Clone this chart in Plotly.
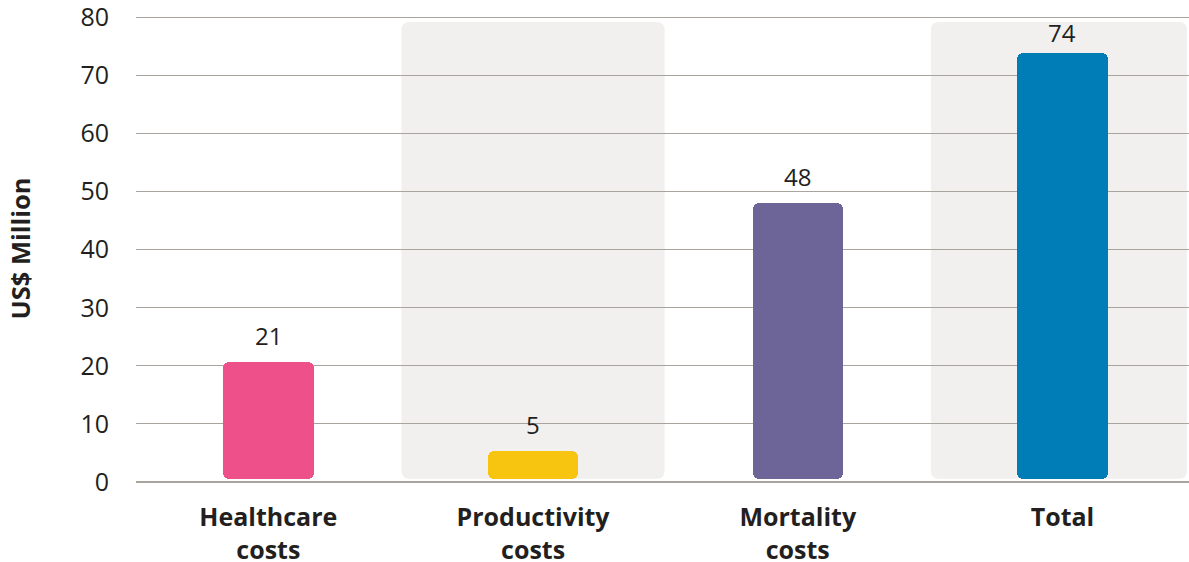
import plotly.graph_objects as go

categories = ["Healthcare<br>costs", "Productivity<br>costs", "Mortality<br>costs", "Total"]
values = [20.6, 5.3, 48.1, 73.9]
value_labels = ["21", "5", "48", "74"]
bar_colors = ["#ee5189", "#f7c40f", "#6d6598", "#007cb7"]
shaded = [False, True, False, True]
y_ticks = [0, 10, 20, 30, 40, 50, 60, 70, 80]

# styles
label_shift = [8, 8, 8, 2]
FONT = "Open Sans"
TEXT = "#231f20"
GRID = "#aaa49f"
PANEL = "#f1f0ee"
BASE = 0.55
PANEL_TOP = 79.2

x = list(range(len(categories)))

fig = go.Figure()
fig.add_trace(go.Bar(
    x=x, y=[v - BASE for v in values], base=BASE,
    marker=dict(color=bar_colors, cornerradius=6, line=dict(width=0)),
    width=0.342, hoverinfo="skip", showlegend=False,
))

# rounded background panels
rx, ry = 8 / 264.7, 8 / 5.81
for i, s in enumerate(shaded):
    if not s:
        continue
    x0, x1 = i - 0.5 + 0.003, min(i + 0.5 - 0.003, 3.47)
    y0, y1 = BASE, PANEL_TOP
    path = (f"M {x0+rx},{y0} L {x1-rx},{y0} Q {x1},{y0} {x1},{y0+ry} "
            f"L {x1},{y1-ry} Q {x1},{y1} {x1-rx},{y1} L {x0+rx},{y1} "
            f"Q {x0},{y1} {x0},{y1-ry} L {x0},{y0+ry} Q {x0},{y0} {x0+rx},{y0} Z")
    fig.add_shape(type="path", path=path, xref="x", yref="y",
                  fillcolor=PANEL, line=dict(width=0), layer="below")

for i, (v, t) in enumerate(zip(values, value_labels)):
    fig.add_annotation(x=i, y=v, text=t, showarrow=False, yanchor="bottom",
                       yshift=label_shift[i], font=dict(family=FONT, size=24, color=TEXT))

fig.add_annotation(text="<b>US$ Million</b>", xref="paper", yref="paper",
                   x=-0.111, y=0.5, textangle=-90, showarrow=False,
                   xanchor="center", yanchor="middle",
                   font=dict(family=FONT, size=25.5, color=TEXT))

fig.update_layout(
    width=1189, height=562,
    margin=dict(l=136, r=0, t=15, b=80),
    paper_bgcolor="white", plot_bgcolor="rgba(0,0,0,0)",
    bargap=0,
    xaxis=dict(
        range=[-0.5, 3.478], tickmode="array", tickvals=x,
        ticktext=[f"<b>{c}</b>" for c in categories],
        tickfont=dict(family=FONT, size=25, color=TEXT),
        showgrid=False, zeroline=False, showline=False, ticks="",
        ticklabelstandoff=18, automargin=False, fixedrange=True,
        ticklabeloverflow="allow",
    ),
    yaxis=dict(
        range=[0, 80.4], tickmode="array", tickvals=y_ticks,
        tickfont=dict(family=FONT, size=25, color=TEXT),
        showgrid=True, gridcolor=GRID, gridwidth=1.3,
        zeroline=True, zerolinecolor=GRID, zerolinewidth=2,
        showline=False, ticks="", ticklabelstandoff=26,
        automargin=False, fixedrange=True, ticklabeloverflow="allow",
    ),
)

fig.write_html(
    "out.html",
    config={"displayModeBar": False},
    post_script="document.body.style.margin='0';document.body.style.overflow='hidden';",
)
